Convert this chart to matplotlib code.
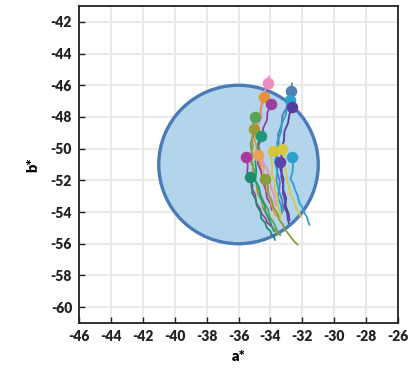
import numpy as np
import matplotlib
matplotlib.use("Agg")
import matplotlib.pyplot as plt
from matplotlib.patches import Circle

plt.rcParams["font.family"] = ["Lato", "DejaVu Sans"]
plt.rcParams["axes.unicode_minus"] = False

# tolerance circle (a*, b*, radius)
target_a, target_b, target_r = -36.0, -51.0, 5.0

# colour drift tracks, each starts at its dot
pink_a = [-34.10, -34.17, -34.36, -34.40, -34.60, -34.55, -34.80, -34.70, -34.78, -34.55, -34.48, -34.20, -34.05, -33.95, -33.72, -33.65]
pink_b = [-45.45, -45.84, -46.40, -46.90, -47.50, -48.00, -48.60, -49.20, -49.80, -50.30, -50.80, -51.30, -51.90, -52.50, -53.10, -53.60]
orange_a = [-34.42, -34.58, -34.65, -34.88, -34.85, -35.00, -34.86, -34.90, -34.62, -34.58, -34.28, -34.20, -33.92, -33.86, -33.62]
orange_b = [-46.76, -47.30, -47.80, -48.30, -48.90, -49.40, -49.90, -50.50, -51.00, -51.60, -52.20, -52.80, -53.30, -53.80, -54.25]
purple_a = [-33.96, -34.18, -34.22, -34.45, -34.50, -34.75, -34.70, -34.80, -34.55, -34.52, -34.28, -34.22, -33.98, -33.92]
purple_b = [-47.20, -47.70, -48.20, -48.70, -49.20, -49.80, -50.30, -50.90, -51.50, -52.00, -52.60, -53.10, -53.50, -53.85]
steel_a = [-32.65, -32.70, -32.92, -32.98, -33.25, -33.30, -33.52, -33.48, -33.62, -33.52, -33.58, -33.40, -33.45, -33.25, -33.18]
steel_b = [-45.90, -46.34, -46.90, -47.40, -47.90, -48.50, -49.10, -49.70, -50.30, -50.90, -51.50, -52.10, -52.70, -53.30, -53.90]
cyan_a = [-32.77, -32.95, -33.05, -33.28, -33.35, -33.58, -33.55, -33.72, -33.58, -33.62, -33.48, -33.52, -33.32, -33.28]
cyan_b = [-46.93, -47.40, -47.90, -48.40, -49.00, -49.60, -50.20, -50.80, -51.40, -52.00, -52.60, -53.10, -53.60, -54.05]
grape_a = [-32.65, -32.82, -32.90, -33.12, -33.15, -33.35, -33.28, -33.38, -33.18, -33.22, -33.02, -33.05, -32.86, -32.80]
grape_b = [-47.39, -47.90, -48.40, -48.90, -49.50, -50.10, -50.70, -51.30, -51.90, -52.50, -53.10, -53.60, -54.10, -54.50]
green_a = [-34.94, -35.10, -35.05, -35.25, -35.15, -35.20, -34.98, -35.02, -34.75, -34.62, -34.40, -34.15, -34.05, -33.78, -33.62, -33.38]
green_b = [-48.02, -48.50, -49.10, -49.70, -50.30, -50.90, -51.40, -51.90, -52.40, -52.90, -53.40, -53.80, -54.30, -54.70, -55.10, -55.45]
olive_a = [-35.00, -35.15, -35.10, -35.25, -35.08, -35.12, -34.88, -34.80, -34.55, -34.45, -34.15, -34.02, -33.75, -33.55]
olive_b = [-48.76, -49.30, -49.90, -50.50, -51.10, -51.70, -52.20, -52.80, -53.30, -53.80, -54.30, -54.80, -55.10, -55.35]
teal_a = [-34.58, -34.78, -34.75, -34.95, -34.88, -34.95, -34.70, -34.65, -34.38, -34.30, -34.05, -33.92, -33.78]
teal_b = [-49.20, -49.70, -50.20, -50.80, -51.40, -52.00, -52.50, -53.00, -53.50, -54.00, -54.50, -54.90, -55.20]
magenta_a = [-35.54, -35.42, -35.45, -35.22, -35.18, -34.95, -34.90, -34.65, -34.55, -34.30, -34.22, -34.00]
magenta_b = [-50.51, -51.00, -51.50, -52.00, -52.50, -52.90, -53.40, -53.80, -54.10, -54.40, -54.65, -54.85]
apricot_a = [-34.80, -34.62, -34.40, -34.48, -34.25, -34.20, -34.00, -33.95, -33.78, -33.72]
apricot_b = [-50.40, -50.80, -51.20, -51.70, -52.20, -52.70, -53.10, -53.50, -53.90, -54.20]
yellow_a = [-33.86, -33.95, -33.88, -33.92, -33.72, -33.74, -33.55, -33.55, -33.40, -33.38]
yellow_b = [-50.13, -50.60, -51.10, -51.60, -52.10, -52.60, -53.10, -53.60, -54.00, -54.40]
lemon_a = [-33.27, -33.12, -33.15, -33.00, -32.98, -32.82, -32.75, -32.52, -32.40, -32.22, -32.10]
lemon_b = [-50.04, -50.50, -51.00, -51.50, -52.00, -52.50, -52.90, -53.30, -53.70, -54.00, -54.30]
indigo_a = [-33.40, -33.28, -33.32, -33.18, -33.22, -33.08, -33.10, -32.95, -32.92, -32.85]
indigo_b = [-50.82, -51.30, -51.80, -52.30, -52.80, -53.30, -53.70, -54.10, -54.40, -54.70]
sky_a = [-32.65, -32.58, -32.62, -32.75, -32.58, -32.45, -32.28, -32.20, -32.00, -31.90, -31.72, -31.65, -31.56]
sky_b = [-50.55, -51.00, -51.50, -51.90, -52.20, -52.60, -53.00, -53.40, -53.70, -54.00, -54.30, -54.55, -54.80]
pine_a = [-35.31, -35.12, -35.15, -34.92, -34.85, -34.62, -34.58, -34.32, -34.22, -34.00, -33.95, -33.78, -33.72]
pine_b = [-51.81, -52.30, -52.80, -53.20, -53.60, -54.00, -54.40, -54.70, -55.00, -55.20, -55.40, -55.55, -55.75]
moss_a = [-34.33, -34.15, -34.12, -33.90, -33.82, -33.55, -33.45, -33.20, -33.10, -32.85, -32.72, -32.50, -32.30]
moss_b = [-51.94, -52.40, -52.90, -53.30, -53.70, -54.10, -54.50, -54.80, -55.10, -55.40, -55.60, -55.85, -56.05]

tracks = [
    (pink_a, pink_b, "#ec8dc0"), (steel_a, steel_b, "#4f80b0"),
    (orange_a, orange_b, "#e8913c"), (cyan_a, cyan_b, "#2aa0cf"),
    (purple_a, purple_b, "#9a3ea0"), (grape_a, grape_b, "#573a9e"),
    (green_a, green_b, "#5aa257"), (olive_a, olive_b, "#9b9b36"),
    (teal_a, teal_b, "#1f9a78"), (apricot_a, apricot_b, "#eba058"),
    (magenta_a, magenta_b, "#a8389f"), (indigo_a, indigo_b, "#5b44a8"),
    (yellow_a, yellow_b, "#d7c63c"), (lemon_a, lemon_b, "#d9c83e"),
    (sky_a, sky_b, "#2c9fcb"), (pine_a, pine_b, "#1c8c6c"),
    (moss_a, moss_b, "#8f9c35"),
]
# index of the point that carries the dot
dot_idx = {"#ec8dc0": 1, "#4f80b0": 1}

fig = plt.figure(figsize=(4.14, 3.71), dpi=100)
ax = fig.add_axes([0.1908, 0.1294, 0.7706, 0.8544])

ax.add_patch(Circle((target_a, target_b), target_r, facecolor="#b3d5ec",
                    edgecolor="#4a7bb8", linewidth=2.4, zorder=1))

for a, b, col in tracks:
    ax.plot(a, b, color=col, lw=1.3, zorder=2, solid_joinstyle="round")
for a, b, col in tracks:
    i = dot_idx.get(col, 0)
    ax.plot(a[i], b[i], "o", ms=8.3, color=col, mec="none", zorder=3)

ax.set_xlim(-46, -26)
ax.set_ylim(-61, -41)
ax.set_xticks(np.arange(-46, -25, 2))
ax.set_yticks(np.arange(-60, -41, 2))
ax.grid(True, color="#e8e8e8", lw=1.3, zorder=0)
ax.set_axisbelow(True)
ax.tick_params(direction="in", length=4, width=1, labelsize=10, colors="#222222",
               top=False, right=False, pad=5)
for lab in ax.get_xticklabels() + ax.get_yticklabels():
    lab.set_fontweight("heavy")
for s in ax.spines.values():
    s.set_linewidth(1.3)
    s.set_color("#222222")
ax.set_xlabel("a*", fontsize=10.5, fontweight="heavy", labelpad=5)
ax.set_ylabel("b*", fontsize=10.5, fontweight="heavy", labelpad=8)

fig.savefig("out.png", dpi=100)
